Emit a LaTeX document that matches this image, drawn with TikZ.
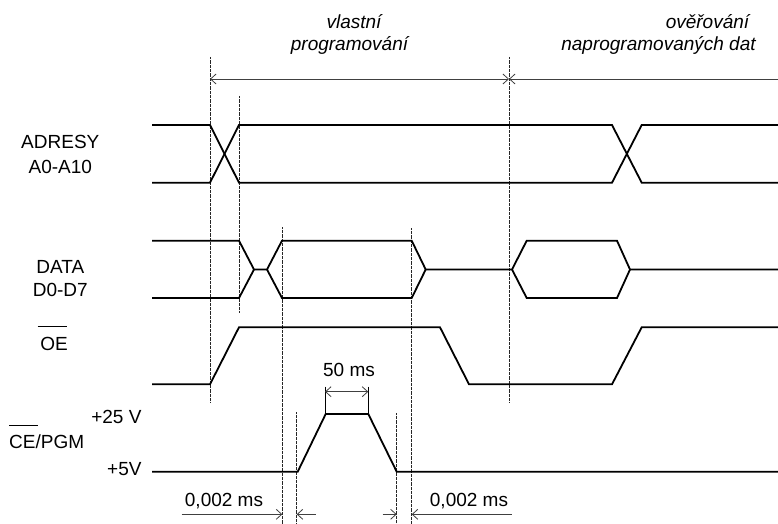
\documentclass[tikz,border=0pt]{standalone}
\usepackage{fontspec}
\setmainfont{Liberation Sans}
\usetikzlibrary{arrows.meta}
\begin{document}
\begin{tikzpicture}[x=1pt,y=-1pt,
  >={Straight Barb[length=5.5pt,width=10pt,line width=0.8pt]},
  sig/.style={line width=1.8pt,line join=miter},
  guide/.style={line width=0.7pt,black!85,dash pattern=on 0.7pt off 0.6pt},
  dimline/.style={line width=0.8pt,black!75},
  lbl/.style={inner sep=0pt,font=\fontsize{19}{21}\selectfont},
  ilbl/.style={lbl,font=\fontsize{19}{21}\selectfont\itshape}]
\useasboundingbox (0,0) rectangle (778,524);
% guide lines
\draw[guide] (210,57) -- (210,402);
\draw[guide] (509,57) -- (509,402);
\draw[guide] (239,96) -- (239,312);
\draw[guide] (282.3,227) -- (282.3,524);
\draw[guide] (411.7,228) -- (411.7,524);
\draw[guide] (296.7,412) -- (296.7,524);
\draw[guide] (396.7,413) -- (396.7,524);
% top phase arrows
\coordinate (pa) at (210,79);
\coordinate (pb) at (509,79);
\coordinate (pc) at (778,79);
\draw[dimline,<->] (pa) -- (pb);
\draw[dimline,<-] (pb) -- (pc);
\node[ilbl,anchor=base] (t1) at (354,29) {vlastní};
\node[ilbl,anchor=base] (t2) at (349.5,51) {programování};
\node[ilbl,anchor=base] (t3) at (707.5,29) {ověřování};
\node[ilbl,anchor=base] (t4) at (658.5,51) {naprogramovaných dat};
% labels
\node[lbl,anchor=base] (la) at (60.3,148.3) {ADRESY};
\node[lbl,anchor=base] (la2) at (60.3,173.3) {A0-A10};
\node[lbl,anchor=base] (ld) at (60.3,273.3) {DATA};
\node[lbl,anchor=base] (ld2) at (60.3,296.7) {D0-D7};
\node[lbl,anchor=base] (loe) at (54,350.7) {OE};
\draw[line width=0.8pt] (37.7,326.7) -- (66.7,326.7);
\node[lbl,anchor=base east] (l25) at (141.7,423.3) {+25 V};
\node[lbl,anchor=base west] (lce) at (9,448.3) {CE/PGM};
\draw[line width=0.8pt] (9,425.7) -- (37.7,425.7);
\node[lbl,anchor=base east] (l5) at (141.7,475) {+5V};
% ADRESY
\draw[sig] (152,125) -- (210,125) -- (239,182.7) -- (612,182.7) -- (641.7,125) -- (778,125);
\draw[sig] (152,182.7) -- (210,182.7) -- (239,125) -- (612,125) -- (641.7,182.7) -- (778,182.7);
% DATA
\draw[sig] (152,240.7) -- (239,240.7) -- (254,269.5) -- (267,269.5) -- (282,240.7) -- (411.7,240.7) -- (425.7,269.5) -- (512,269.5) -- (526.7,240.7) -- (617,240.7) -- (630,269.5) -- (778,269.5);
\draw[sig] (152,298) -- (239,298) -- (254,269.5);
\draw[sig] (267,269.5) -- (282,298) -- (411.7,298) -- (425.7,269.5);
\draw[sig] (512,269.5) -- (526.7,298) -- (617,298) -- (630,269.5);
% OE
\draw[sig] (152,384.3) -- (210,384.3) -- (239,327.3) -- (440,327.3) -- (469,384.3) -- (612,384.3) -- (641.7,327.3) -- (778,327.3);
% CE/PGM
\draw[sig] (152,471.7) -- (297.7,471.7) -- (325.7,414) -- (368.3,414) -- (396.7,471.7) -- (778,471.7);
% 50 ms
\draw[line width=0.7pt] (325,386.7) -- (325,414);
\draw[line width=0.7pt] (368.3,386.7) -- (368.3,414);
\coordinate (fa) at (325,391.7);
\coordinate (fb) at (368.3,391.7);
\draw[dimline,<->] (fa) -- (fb);
\node[lbl,anchor=base] (l50) at (349,376.7) {50 ms};
% 0,002 ms dims
\coordinate (d1a) at (181.7,514.3);
\coordinate (d1b) at (282.3,514.3);
\coordinate (d1c) at (296.7,514.3);
\coordinate (d1d) at (316,514.3);
\draw[dimline,->] (d1a) -- (d1b);
\draw[dimline,<-] (d1c) -- (d1d);
\node[lbl,anchor=base] (l002a) at (224,506) {0,002 ms};
\coordinate (d2a) at (382.7,514.3);
\coordinate (d2b) at (396.7,514.3);
\coordinate (d2c) at (411.7,514.3);
\coordinate (d2d) at (512,514.3);
\draw[dimline,->] (d2a) -- (d2b);
\draw[dimline,<-] (d2c) -- (d2d);
\node[lbl,anchor=base] (l002b) at (469,506) {0,002 ms};
\end{tikzpicture}
\end{document}
